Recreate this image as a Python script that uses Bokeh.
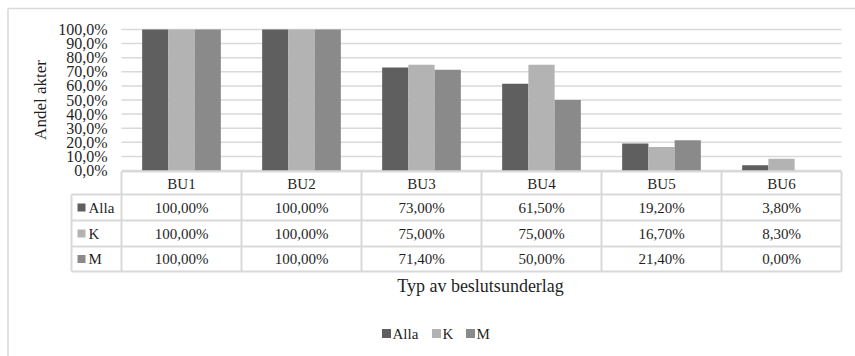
from bokeh.plotting import figure
from bokeh.models import Range1d
from bokeh.core.properties import value
from bokeh.embed import file_html
from bokeh.resources import INLINE

# ---- data -------------------------------------------------------------
categories = ["BU1", "BU2", "BU3", "BU4", "BU5", "BU6"]
series_names = ["Alla", "K", "M"]
alla = [1.000, 1.000, 0.730, 0.615, 0.192, 0.038]
k_vals = [1.000, 1.000, 0.750, 0.750, 0.167, 0.083]
m_vals = [1.000, 1.000, 0.714, 0.500, 0.214, 0.000]
y_ticks = [0.0, 0.1, 0.2, 0.3, 0.4, 0.5, 0.6, 0.7, 0.8, 0.9, 1.0]
y_title = "Andel akter"
x_title = "Typ av beslutsunderlag"

series_values = [alla, k_vals, m_vals]
colors = ["#5f5f5f", "#b3b3b3", "#8a8a8a"]

# ---- layout (canvas pixels -> data units) -----------------------------
W, H = 855, 356
LEFT, CAT_W = 121, 120      # plot area left edge, width of one category
ZERO, UNIT = 170, 141       # pixel row of 0 %, pixels per 100 %


def dx(px):
    return (px - LEFT) / CAT_W


def dy(py):
    return (ZERO - py) / UNIT


FONT = value("'Liberation Serif', 'Times New Roman', 'DejaVu Serif', serif")
TEXT = "#1f1f1f"
RULE = "#d9d9d9"

p = figure(width=W, height=H, output_backend="svg", toolbar_location=None,
           x_range=Range1d(dx(0), dx(W)), y_range=Range1d(dy(H), dy(0)),
           x_axis_location=None, y_axis_location=None,
           min_border=0, outline_line_color=None,
           background_fill_color="white", border_fill_color="white")
p.grid.visible = False

# chart border (left and top edges are in view)
p.segment(x0=[dx(7.5), dx(7.5)], y0=[dy(8), dy(8)],
          x1=[dx(7.5), dx(W + 5)], y1=[dy(H + 5), dy(8)],
          line_color=RULE, line_width=1.5)

n = len(categories)
x_end = n  # right edge of the last category

# horizontal gridlines
p.segment(x0=[0] * len(y_ticks), y0=y_ticks, x1=[x_end] * len(y_ticks), y1=y_ticks,
          line_color=RULE, line_width=1.5)

# tick labels
tick_labels = [f"{t * 100:.1f}%".replace(".", ",") for t in y_ticks]
p.text(x=[dx(107)] * len(y_ticks), y=y_ticks, text=tick_labels,
       text_font=FONT, text_font_size="16px", text_color=TEXT,
       text_align="right", text_baseline="middle")

# clustered bars
bar_w = 0.2186
for s, (vals, col) in enumerate(zip(series_values, colors)):
    off = (s - 1) * bar_w
    p.vbar(x=[i + 0.5 + off for i in range(n)], top=vals, bottom=0,
           width=bar_w, fill_color=col, line_color=None)

# axis title (rotated)
p.text(x=[dx(40)], y=[0.5], text=[y_title], angle=1.5707963,
       text_font=FONT, text_font_size="17px", text_color=TEXT,
       text_align="center", text_baseline="middle")

# ---- data table under the plot -----------------------------------------
t_top, t_head, t_bot = 171, 194, 271
row_lines = [194, 220, 246, 271]
row_centers = [207, 233, 258.5]
key_left = 71

# horizontal rules
p.segment(x0=[0], y0=[dy(t_top)], x1=[x_end], y1=[dy(t_top)],
          line_color=RULE, line_width=2)
p.segment(x0=[dx(key_left)] * len(row_lines), y0=[dy(r) for r in row_lines],
          x1=[x_end] * len(row_lines), y1=[dy(r) for r in row_lines],
          line_color=RULE, line_width=2)
# vertical rules
p.segment(x0=list(range(n + 1)), y0=[dy(t_top)] * (n + 1),
          x1=list(range(n + 1)), y1=[dy(t_bot)] * (n + 1),
          line_color=RULE, line_width=2)
p.segment(x0=[dx(key_left)], y0=[dy(t_head)], x1=[dx(key_left)], y1=[dy(t_bot)],
          line_color=RULE, line_width=2)

# header row
p.text(x=[i + 0.5 for i in range(n)], y=[dy(183)] * n, text=categories,
       text_font=FONT, text_font_size="15px", text_color=TEXT,
       text_align="center", text_baseline="middle")

# value rows with their keys
for s, (name, vals, col) in enumerate(zip(series_names, series_values, colors)):
    yc = dy(row_centers[s])
    labels = [f"{v * 100:.2f}%".replace(".", ",") for v in vals]
    p.text(x=[i + 0.5 for i in range(n)], y=[yc] * n, text=labels,
           text_font=FONT, text_font_size="15px", text_color=TEXT,
           text_align="center", text_baseline="middle")
    p.scatter(x=[dx(81)], y=[yc], marker="square", size=8,
              fill_color=col, line_color=None)
    p.text(x=[dx(88)], y=[yc], text=[name],
           text_font=FONT, text_font_size="15px", text_color=TEXT,
           text_align="left", text_baseline="middle")

# category axis title
p.text(x=[dx(480)], y=[dy(285)], text=[x_title],
       text_font=FONT, text_font_size="18px", text_color=TEXT,
       text_align="center", text_baseline="middle")

# ---- legend ------------------------------------------------------------
leg_y = dy(333)
key_x = [386, 436, 470]
for name, col, kx in zip(series_names, colors, key_x):
    p.scatter(x=[dx(kx)], y=[leg_y], marker="square", size=9,
              fill_color=col, line_color=None)
    p.text(x=[dx(kx + 6)], y=[leg_y], text=[name],
           text_font=FONT, text_font_size="15px", text_color=TEXT,
           text_align="left", text_baseline="middle")

open("out.html", "w").write(file_html(p, INLINE))
